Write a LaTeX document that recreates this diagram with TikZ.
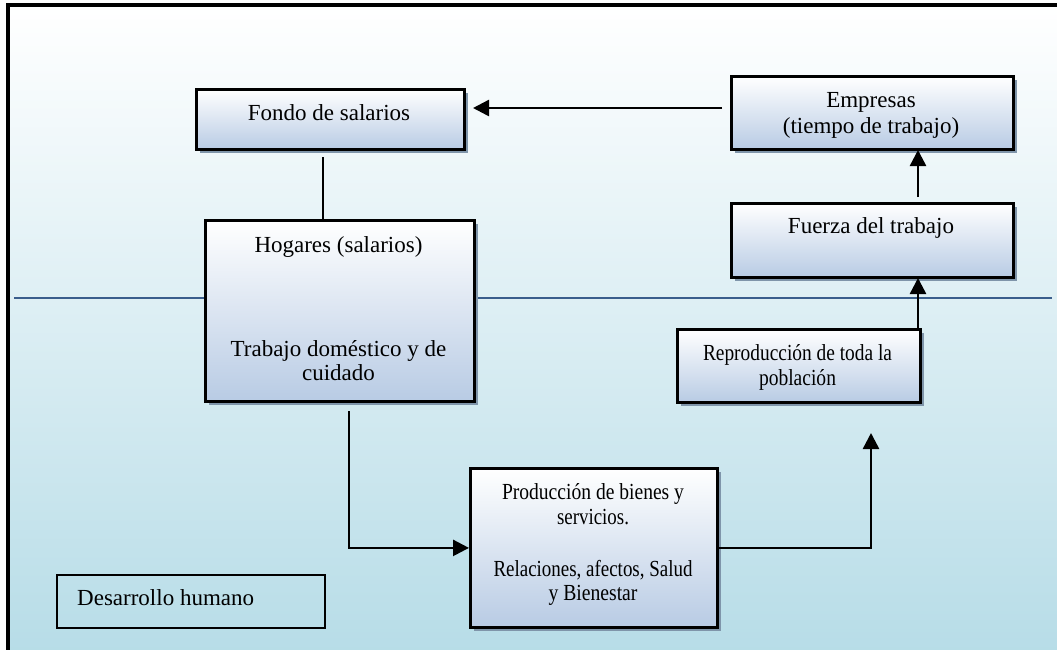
\documentclass[tikz,border=0pt]{standalone}
\usepackage{fontspec}
\usepackage{graphicx}
\setmainfont{Liberation Serif}
\usetikzlibrary{arrows.meta,shadows}
\definecolor{bgbot}{HTML}{B6DCE7}
\definecolor{boxbot}{HTML}{B8CBE4}
\definecolor{shad}{HTML}{7F95AA}
\definecolor{hline}{HTML}{3A5E8C}
\newcommand{\fitw}[2]{\resizebox{#1pt}{\height}{#2}}
\tikzset{
  box/.style={draw=black, line width=2.8pt, top color=white, bottom color=boxbot,
    drop shadow={shadow xshift=4pt, shadow yshift=-4pt, fill=shad, opacity=1},
    inner sep=0pt, anchor=north west},
  lbl/.style={font=\fontsize{23}{25}\selectfont, align=center, anchor=base, inner sep=0pt},
  conn/.style={line width=2.5pt, draw=black},
  arr/.style={conn, -{Triangle[length=16pt,width=16pt]}},
}
\begin{document}
\begin{tikzpicture}[x=1pt,y=-1pt]
\useasboundingbox (0,0) rectangle (1057,649);
% background + frame
\shade[top color=white, bottom color=bgbot] (8,5) rectangle (1070,660);
\draw[line width=3.2pt] (1070,5) -- (8,5) -- (8,660);
% horizon line
\draw[hline, line width=1.6pt] (14,298) -- (1052,298);

% boxes
\node[box, minimum width=268pt, minimum height=60pt] (fondo) at (195,88) {};
\node[box, minimum width=282pt, minimum height=73pt] (empresas) at (730,75) {};
\node[box, minimum width=282pt, minimum height=74pt] (fuerza) at (730,202) {};
\node[box, minimum width=269pt, minimum height=181pt] (hogares) at (204,219) {};
\node[box, minimum width=243pt, minimum height=73pt] (repro) at (676,328) {};
\node[box, minimum width=247pt, minimum height=159pt] (produc) at (469,467) {};
\node[draw=black, line width=2.4pt, minimum width=268pt, minimum height=53pt, anchor=north west, inner sep=0pt] (desarrollo) at (56,574) {};

% labels
\node[lbl] (tfondo) at (329,120) {Fondo de salarios};
\node[lbl] (temp1) at (871,107) {Empresas};
\node[lbl] (temp2) at (871,133) {(tiempo de trabajo)};
\node[lbl] (tfuer) at (871,233) {Fuerza del trabajo};
\node[lbl] (thog1) at (338.5,252) {Hogares (salarios)};
\node[lbl] (thog2) at (338.5,356) {Trabajo doméstico y de};
\node[lbl] (thog3) at (338.5,380) {cuidado};
\node[lbl] (trep1) at (797.5,360) {\fitw{189}{Reproducción de toda la}};
\node[lbl] (trep2) at (797.5,385) {\fitw{77}{población}};
\node[lbl] (tpro1) at (593,499) {\fitw{182}{Producción de bienes y}};
\node[lbl] (tpro2) at (593,524) {\fitw{72}{servicios.}};
\node[lbl] (tpro3) at (593,576) {\fitw{199}{Relaciones, afectos, Salud}};
\node[lbl] (tpro4) at (593,600) {\fitw{89}{y Bienestar}};
\node[lbl, anchor=base west] (tdes) at (77,605) {Desarrollo humano};

% connector end points
\coordinate (c1) at (323,157);
\coordinate (c2) at (722,108);
\coordinate (c3) at (473,108);
\coordinate (c4) at (918,197);
\coordinate (c5) at (918,150);
\coordinate (c6) at (918,278);
\coordinate (c7) at (349,411);
\coordinate (c8) at (871,433);

% connectors
\draw[conn] (c1) -- (c1 |- hogares.north);
\draw[arr] (c2) -- (c3);
\draw[arr] (c4) -- (c5);
\draw[arr] (c6 |- repro.north) -- (c6);
\draw[arr] (c7) |- (produc.west);
\draw[arr] (produc.east) -| (c8);
\end{tikzpicture}
\end{document}
